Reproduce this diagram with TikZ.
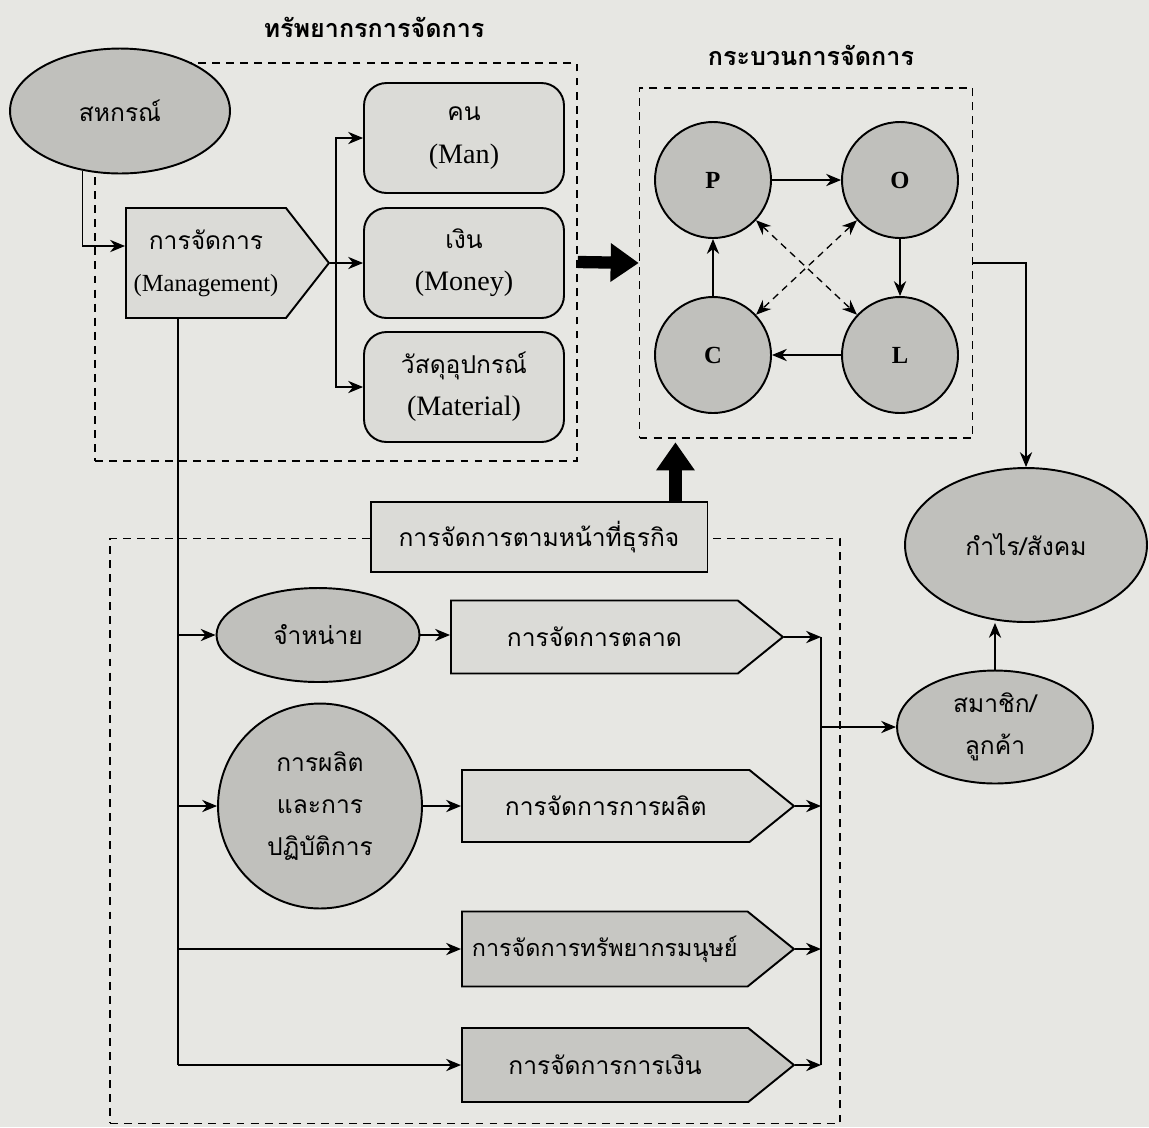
\documentclass[tikz,border=0pt]{standalone}
\usepackage{fontspec}
\setmainfont{Liberation Serif}
\newfontfamily\thaifont[Script=Thai]{Loma}
\usetikzlibrary{arrows, arrows.meta, shapes}
\usetikzlibrary{calc}
\usetikzlibrary{positioning}

\definecolor{paper}{RGB}{231,231,227}
\definecolor{lightfill}{RGB}{219,219,215}
\definecolor{darkfill}{RGB}{192,192,188}
\definecolor{midfill}{RGB}{199,199,195}

\begin{document}
\begin{tikzpicture}[x=0.02cm, y=-0.02cm, >={Stealth[length=8.5pt,width=7pt]}, line width=0.75pt]

\tikzset{
  % dashed frames round the three groups
  dframe/.style={draw, dash pattern=on 4.5pt off 3.5pt, line width=0.9pt, inner sep=0pt},
  thbox/.style={draw, line width=1.1pt, fill=lightfill, inner sep=0pt, align=center,
    font=\thaifont\fontsize{14}{24}\selectfont},
  resbox/.style={thbox, rounded corners=0.45cm, minimum width=4cm, minimum height=2.2cm},
  oval/.style={thbox, ellipse, fill=darkfill},
  ring/.style={draw, line width=1.1pt, fill=darkfill, circle, minimum size=2.32cm,
    font=\bfseries\fontsize{14}{16}\selectfont},
  funcsig/.style={thbox, signal, signal to=east, signal from=nowhere, signal pointer angle=78,
    minimum width=6.64cm, anchor=west},
  fat/.style={line width=7pt, -{Triangle[length=16pt,width=21pt]}},
  headline/.style={font=\thaifont\bfseries\fontsize{14.3}{18}\selectfont}
}

\fill[paper] (0,0) rectangle (1149,1127);
\useasboundingbox (0,0) rectangle (1149,1127);

\node[headline] (t1) at (374,27) {ทรัพยากรการจัดการ};
\node[headline] (t2) at (811,55) {กระบวนการจัดการ};

% frames
\node[dframe, minimum width=9.64cm, minimum height=7.96cm] (res) at (336,262) {};
\node[dframe, minimum width=6.66cm, minimum height=7cm] (proc) at (806,263) {};
\node[dframe, minimum width=14.6cm, minimum height=11.7cm] (func) at (475,831) {};

\node[oval, minimum width=4.4cm, minimum height=2.5cm] (coop) at (120,111) {สหกรณ์};
\node[thbox, signal, signal to=east, signal from=nowhere, signal pointer angle=104,
  minimum width=4.06cm, minimum height=2.2cm, anchor=west] (mgmt) at (125,263)
  {การจัดการ\\{\rmfamily (Management)}};

\node[resbox] (man) at (464,138) {คน\\{\rmfamily\fontsize{16}{24}\selectfont (Man)}};
\node[resbox] (money) at (464,263) {เงิน\\{\rmfamily\fontsize{16}{24}\selectfont (Money)}};
\node[resbox] (mat) at (464,387) {วัสดุอุปกรณ์\\{\rmfamily\fontsize{16}{24}\selectfont (Material)}};

\node[ring] (P) at (713,180) {P};
\node[ring] (O) at (900,180) {O};
\node[ring] (C) at (713,355) {C};
\node[ring] (L) at (900,355) {L};

\node[thbox, minimum width=6.74cm, minimum height=1.4cm] (funcbox) at (539,537) {การจัดการตามหน้าที่ธุรกิจ};

\node[oval, minimum width=4.06cm, minimum height=1.88cm] (sell) at (318,635) {จำหน่าย};
\node[oval, minimum width=4.08cm, minimum height=4.1cm] (prod) at (320,806) {การผลิต\\และการ\\ปฏิบัติการ};

\node[funcsig, minimum height=1.46cm] (mkt) at (450,637) {การจัดการตลาด};
\node[funcsig, minimum height=1.44cm] (pdm) at (461,806) {การจัดการการผลิต};
\node[funcsig, minimum height=1.5cm, fill=midfill, font=\thaifont\fontsize{13.3}{24}\selectfont] (hr) at (461,949) {การจัดการทรัพยากรมนุษย์};
\node[funcsig, minimum height=1.48cm, fill=midfill] (fin) at (461,1065) {การจัดการการเงิน};

\node[oval, minimum width=4.84cm, minimum height=3.08cm] (profit) at (1026,545) {กำไร/สังคม};
\node[oval, minimum width=3.92cm, minimum height=2.26cm] (member) at (995,727) {สมาชิก/\\ลูกค้า};

% resources
\coordinate (fork) at (336,0);
\draw[->] (coop.238) |- ($(mgmt.west)+(0,-17)$);
\draw[->] (mgmt.east) -- (money.west);
\draw[->] (mgmt.east -| fork) |- (man.west);
\draw[->] (mgmt.east -| fork) |- (mat.west);
\draw[fat] (res.east) -- (proc.west);

% POLC
\draw[->] (P) -- (O);
\draw[->] (O) -- (L);
\draw[->] (L) -- (C);
\draw[->] (C) -- (P);
\draw[<->, dash pattern=on 4pt off 3pt] (P) -- (L);
\draw[<->, dash pattern=on 4pt off 3pt] (O) -- (C);

\coordinate (up) at ($(funcbox.north east)+(-33,0)$);
\draw[fat, shorten >=2pt] (up) -- (up |- proc.south);
\draw[->] (proc.east) -| (profit.north);

% business functions
\coordinate (spine) at (178,0);
\draw (mgmt.south -| spine) -- (spine |- fin.west);
\draw[->] (spine |- sell.west) -- (sell.west);
\draw[->] (spine |- prod.west) -- (prod.west);
\draw[->] (spine |- hr.west) -- (hr.west);
\draw[->] (spine |- fin.west) -- (fin.west);
\draw[->] (sell.east) -- (sell.east -| mkt.west);
\draw[->] (prod.east) -- (prod.east -| pdm.west);

\coordinate (bus) at (821,0);
\draw[->] (mkt.east) -- (mkt.east -| bus);
\draw[->] (pdm.east) -- (pdm.east -| bus);
\draw[->] (hr.east) -- (hr.east -| bus);
\draw[->] (fin.east) -- (fin.east -| bus);
\draw (mkt.east -| bus) -- (fin.east -| bus);
\draw[->] (member.west -| bus) -- (member.west);
\draw[->] (member.north) -- (member.north |- profit.south);

\end{tikzpicture}
\end{document}
